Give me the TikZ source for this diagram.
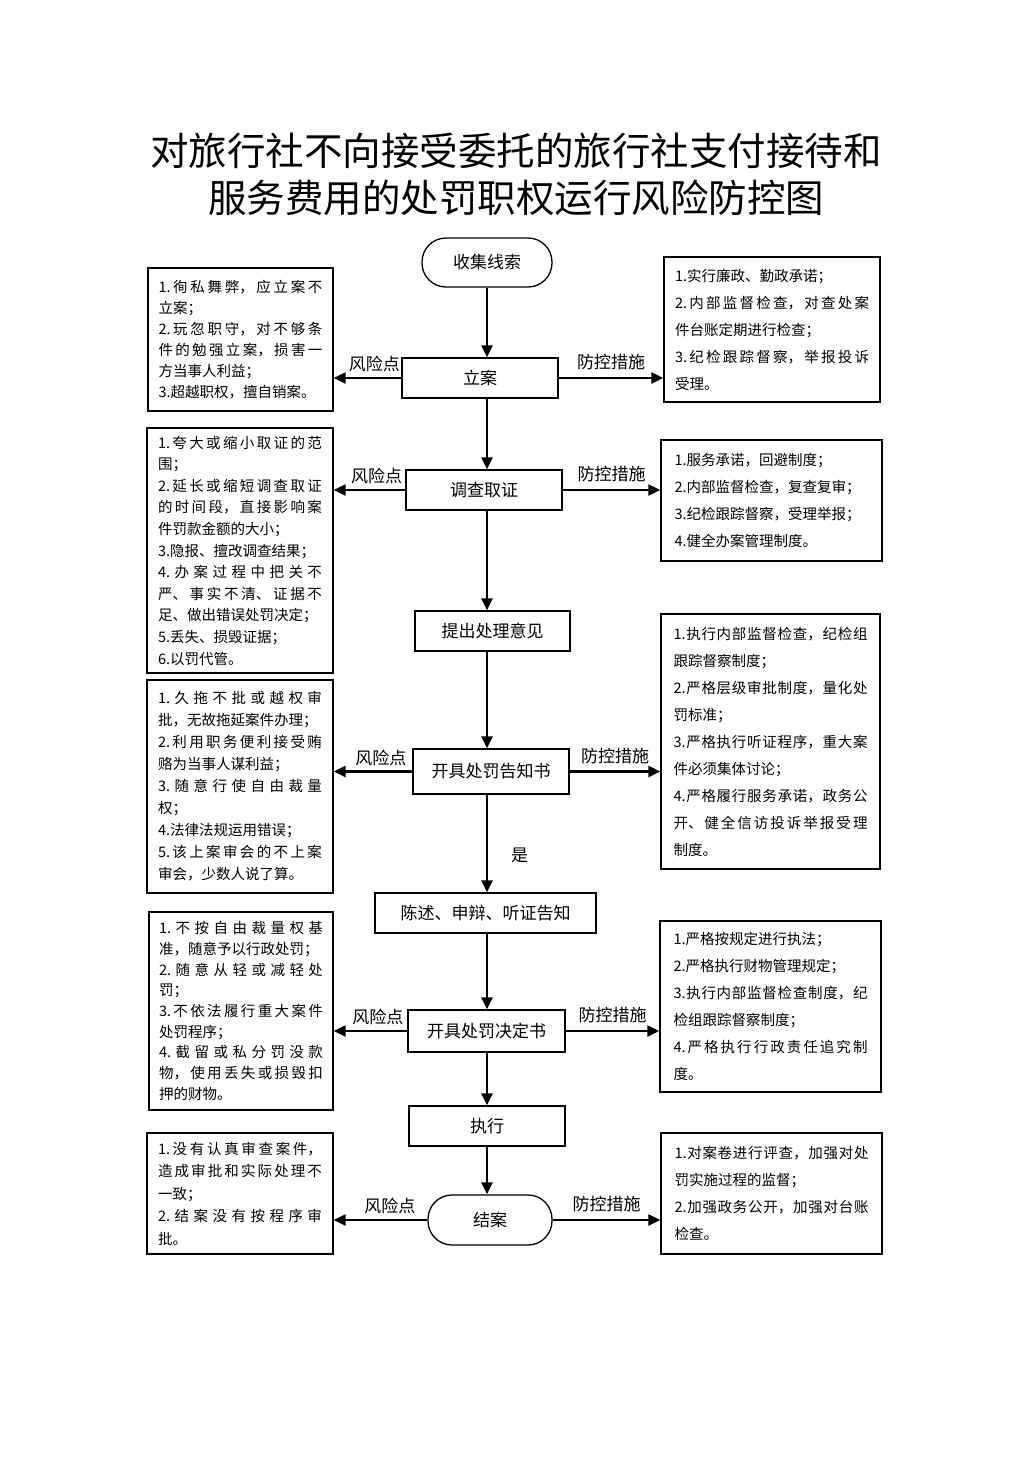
\documentclass[tikz,border=0pt]{standalone}
\usepackage{fontspec}
\setmainfont{Noto Sans CJK SC}
\usetikzlibrary{arrows.meta}
\XeTeXlinebreaklocale "zh"
\XeTeXlinebreakskip=0pt plus 3pt
\begin{document}
\begin{tikzpicture}[x=1pt,y=-1pt,
  mainbox/.style={draw, line width=1.3pt, minimum height=40pt, minimum width=156pt, inner sep=0pt, font=\fontsize{17}{20}\selectfont},
  endbox/.style={mainbox, rounded corners=24pt},
  riskbox/.style={draw, line width=1.3pt, inner sep=0pt, text width=164pt, align=justify},
  ctrlbox/.style={draw, line width=1.3pt, inner sep=0pt, text width=194pt, align=justify, font=\fontsize{14.5}{27}\selectfont},
  arr/.style={line width=2.2pt, -{Triangle[length=12pt,width=11pt]}},
  lbl/.style={font=\fontsize{17}{20}\selectfont, inner sep=3pt}]
\useasboundingbox[fill=white] (0,0) rectangle (1033,1460);
\coordinate (col) at (487,0);

\node[align=center, font=\fontsize{38.5}{47}\selectfont] (title) at (516,174) {对旅行社不向接受委托的旅行社支付接待和\\服务费用的处罚职权运行风险防控图};

% main column
\node[endbox, minimum width=130pt, minimum height=49pt] (n0) at (487,262.5) {收集线索};
\node[mainbox] (n1) at (480,378) {立案};
\node[mainbox] (n2) at (484,490) {调查取证};
\node[mainbox, minimum width=155pt] (n3) at (492.5,631) {提出处理意见};
\node[mainbox, minimum height=45pt] (n4) at (491,771.5) {开具处罚告知书};
\node[mainbox, minimum width=221pt] (n5) at (485.5,913) {陈述、申辩、听证告知};
\node[mainbox, minimum width=157pt, minimum height=42pt] (n6) at (486.5,1031) {开具处罚决定书};
\node[mainbox] (n7) at (487,1126) {执行};
\node[endbox, minimum width=124pt, minimum height=50pt] (n8) at (490,1220) {结案};

% risk boxes (left)
\node[riskbox, minimum width=185pt, minimum height=143pt, font=\fontsize{14.5}{21}\selectfont] (L1) at (240.5,339.5) {\noindent
1.徇私舞弊，应立案不\linebreak
立案；\newline
2.玩忽职守，对不够条\linebreak
件的勉强立案，损害一\linebreak
方当事人利益；\newline
3.超越职权，擅自销案。};
\node[riskbox, minimum width=186pt, minimum height=245pt, font=\fontsize{14.5}{21.6}\selectfont] (L2) at (240,550.5) {\noindent
1.夸大或缩小取证的范\linebreak
围；\newline
2.延长或缩短调查取证\linebreak
的时间段，直接影响案\linebreak
件罚款金额的大小；\newline
3.隐报、擅改调查结果；\newline
4.办案过程中把关不\linebreak
严、事实不清、证据不\linebreak
足、做出错误处罚决定；\newline
5.丢失、损毁证据；\newline
6.以罚代管。};
\node[riskbox, minimum width=186pt, minimum height=213pt, font=\fontsize{14.5}{22}\selectfont] (L3) at (240,786.5) {\noindent
1.久拖不批或越权审\linebreak
批，无故拖延案件办理；\newline
2.利用职务便利接受贿\linebreak
赂为当事人谋利益；\newline
3.随意行使自由裁量\linebreak
权；\newline
4.法律法规运用错误；\newline
5.该上案审会的不上案\linebreak
审会，少数人说了算。};
\node[riskbox, minimum width=184pt, minimum height=198pt, font=\fontsize{14.5}{20.7}\selectfont] (L4) at (241,1011) {\noindent
1.不按自由裁量权基\linebreak
准，随意予以行政处罚；\newline
2.随意从轻或减轻处\linebreak
罚；\newline
3.不依法履行重大案件\linebreak
处罚程序；\newline
4.截留或私分罚没款\linebreak
物，使用丢失或损毁扣\linebreak
押的财物。};
\node[riskbox, minimum width=186pt, minimum height=121pt, font=\fontsize{14.5}{22.5}\selectfont] (L5) at (240,1193.5) {\noindent
1.没有认真审查案件，\linebreak
造成审批和实际处理不\linebreak
一致；\newline
2.结案没有按程序审\linebreak
批。};

% control boxes (right)
\node[ctrlbox, minimum width=216pt, minimum height=145pt] (R1) at (772,329.5) {\noindent
1.实行廉政、勤政承诺；\newline
2.内部监督检查，对查处案\linebreak
件台账定期进行检查；\newline
3.纪检跟踪督察，举报投诉\linebreak
受理。};
\node[ctrlbox, minimum width=221pt, minimum height=121pt] (R2) at (771.5,500.5) {\noindent
1.服务承诺，回避制度；\newline
2.内部监督检查，复查复审；\newline
3.纪检跟踪督察，受理举报；\newline
4.健全办案管理制度。};
\node[ctrlbox, minimum width=219pt, minimum height=255pt] (R3) at (770.5,741.5) {\noindent
1.执行内部监督检查，纪检组\linebreak
跟踪督察制度；\newline
2.严格层级审批制度，量化处\linebreak
罚标准；\newline
3.严格执行听证程序，重大案\linebreak
件必须集体讨论；\newline
4.严格履行服务承诺，政务公\linebreak
开、健全信访投诉举报受理\linebreak
制度。};
\node[ctrlbox, minimum width=221pt, minimum height=171pt] (R4) at (770.5,1006.5) {\noindent
1.严格按规定进行执法；\newline
2.严格执行财物管理规定；\newline
3.执行内部监督检查制度，纪\linebreak
检组跟踪督察制度；\newline
4.严格执行行政责任追究制\linebreak
度。};
\node[ctrlbox, minimum width=221pt, minimum height=121pt] (R5) at (771.5,1193.5) {\noindent
1.对案卷进行评查，加强对处\linebreak
罚实施过程的监督；\newline
2.加强政务公开，加强对台账\linebreak
检查。};

% vertical flow
\draw[arr] (n0.south -| col) -- (n1.north -| col);
\draw[arr] (n1.south -| col) -- (n2.north -| col);
\draw[arr] (n2.south -| col) -- (n3.north -| col);
\draw[arr] (n3.south -| col) -- (n4.north -| col);
\draw[arr] (n4.south -| col) -- node[lbl, pos=0.62, right=20pt] {是} (n5.north -| col);
\draw[arr] (n5.south -| col) -- (n6.north -| col);
\draw[arr] (n6.south -| col) -- (n7.north -| col);
\draw[arr] (n7.south -| col) -- (n8.north -| col);

% risk arrows
\foreach \m/\b in {n1/L1, n2/L2, n4/L3, n6/L4, n8/L5}{
  \draw[arr] (\m.west) -- node[lbl, pos=0.4, above=2pt] {风险点} (\b.east |- \m.west);
}
% control arrows
\foreach \m/\b in {n1/R1, n2/R2, n4/R3, n6/R4, n8/R5}{
  \draw[arr] (\m.east) -- node[lbl, pos=0.5, above=4pt] {防控措施} (\b.west |- \m.east);
}
\end{tikzpicture}
\end{document}
